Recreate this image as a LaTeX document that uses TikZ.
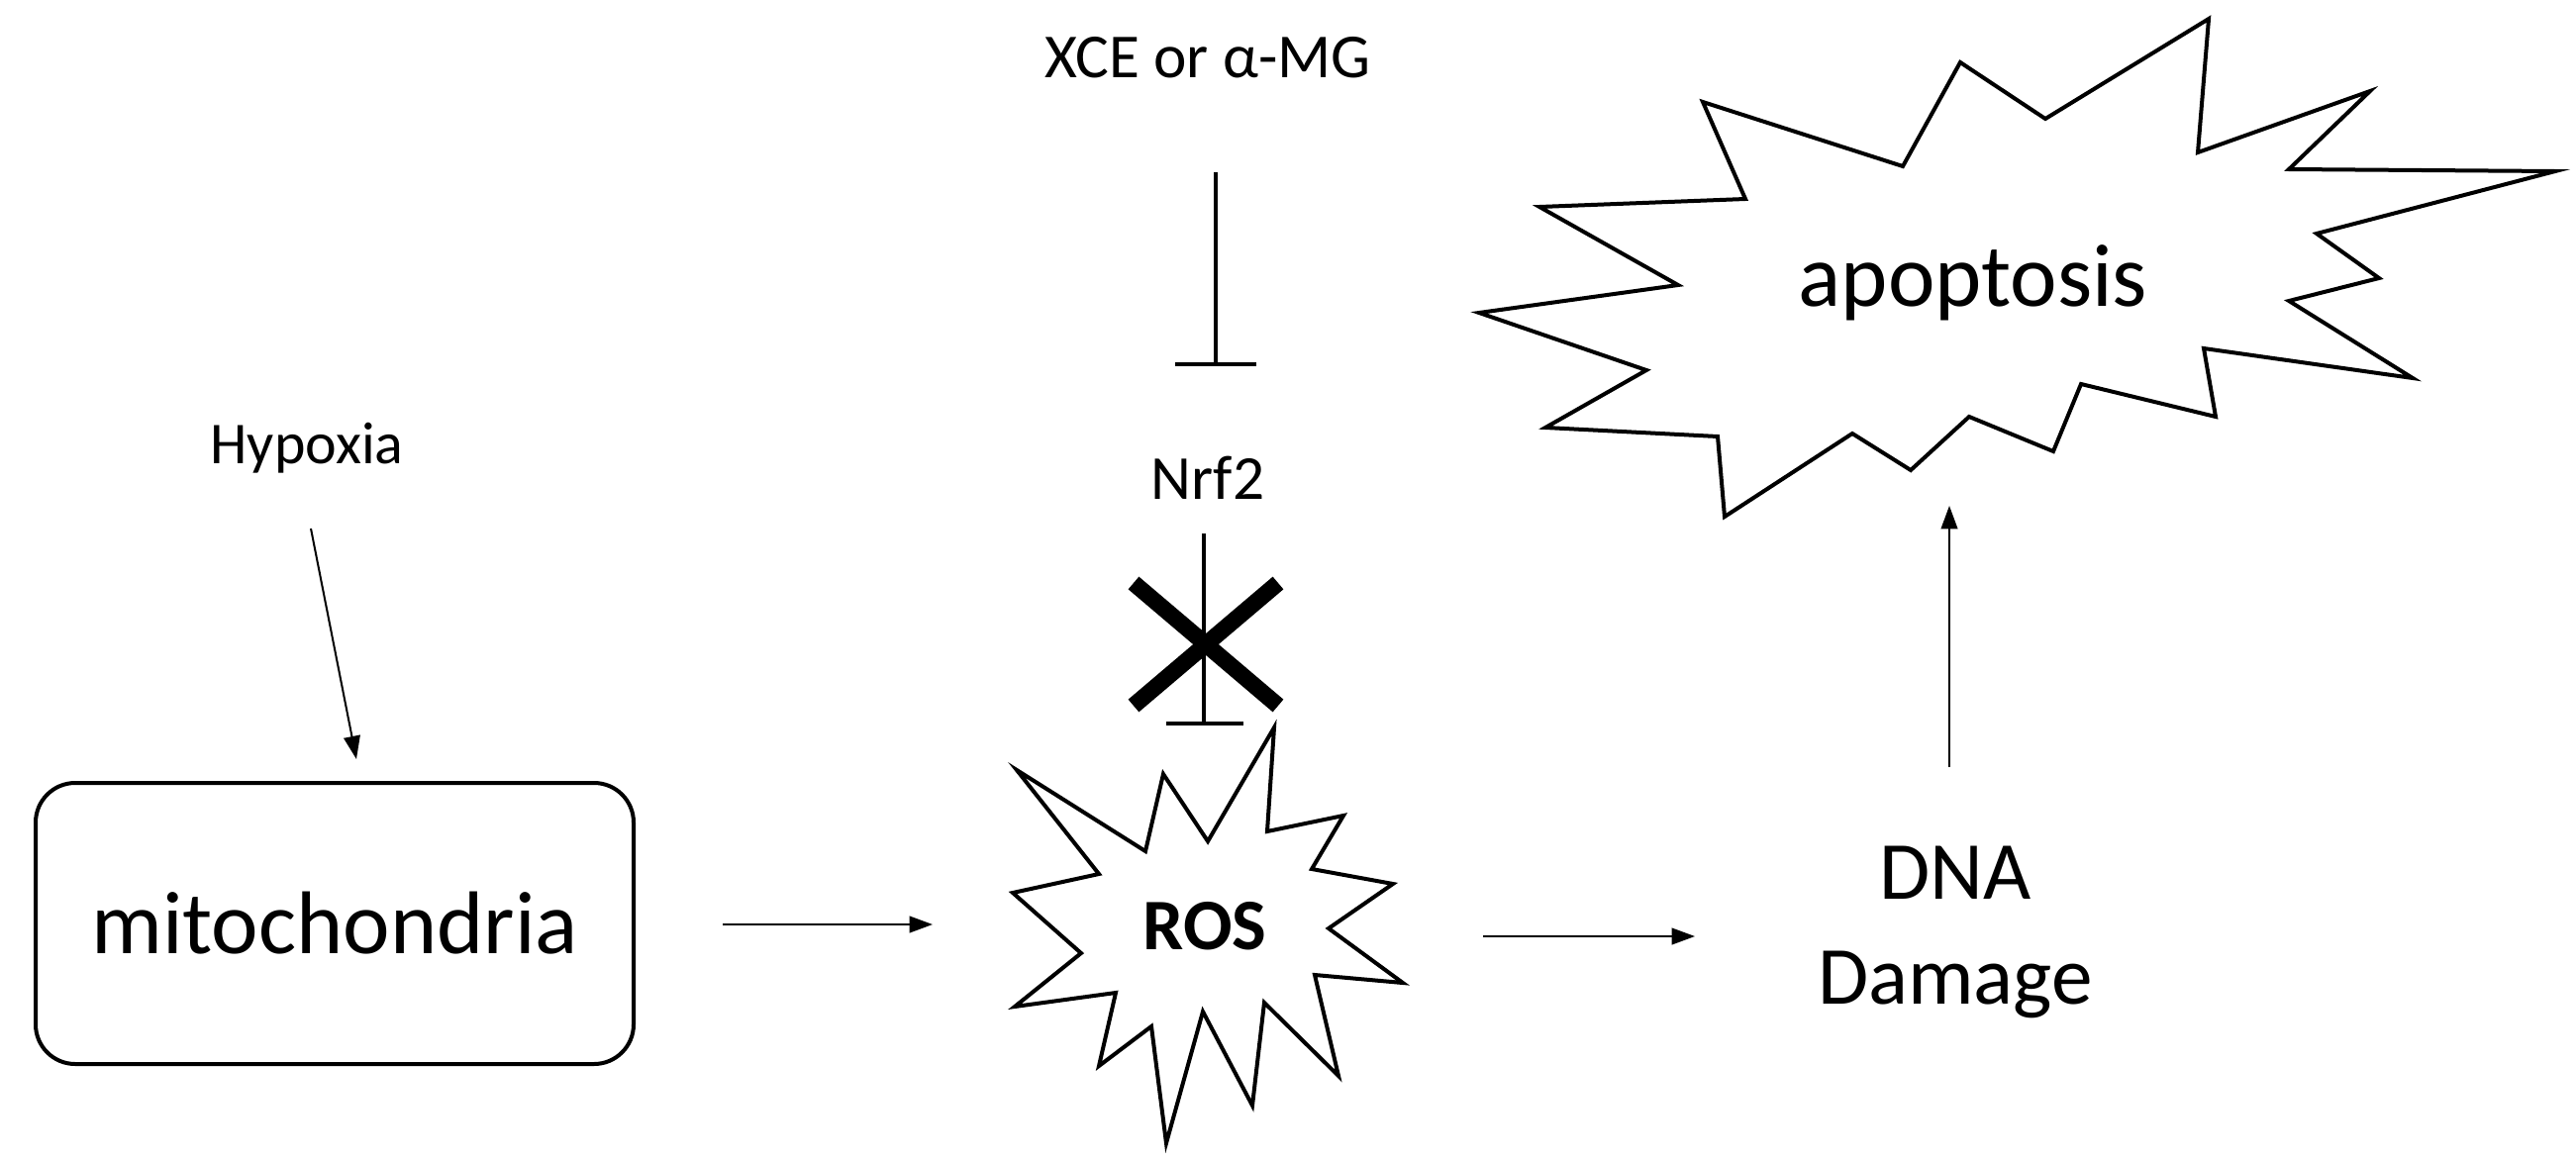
\documentclass[tikz,border=0pt]{standalone}
\usepackage{fontspec}
\setmainfont{Carlito}
\usetikzlibrary{arrows.meta}
\begin{document}
\begin{tikzpicture}[x=0.3pt,y=-0.3pt,
  arr/.style={line width=0.6pt,-{Triangle[length=7pt,width=5pt]}},
  inh/.style={line width=1.2pt},
  burst/.style={draw,line width=1.2pt,line join=miter}]
\useasboundingbox (0,0) rectangle (2602,1172);
% apoptosis burst
\draw[burst] (1720,103)--(1922,168)--(1980,63)--(2066,120)--(2231,19)--(2220,154)--(2394,92)--(2312,171)--(2581,173)--(2340,236)--(2403,281)--(2312,304)--(2437,382)--(2226,352)--(2238,421)--(2102,388)--(2074,456)--(1989,421)--(1930,475)--(1871,438)--(1742,522)--(1735,441)--(1561,432)--(1663,374)--(1494,316)--(1695,288)--(1555,209)--(1763,201)--cycle;
\node[font=\fontsize{27}{32}\selectfont] (apo) at (1993,286) {apoptosis};
% ROS burst
\draw[burst] (1027,778)--(1157,860)--(1175,782)--(1220,850)--(1287,735)--(1280,840)--(1357,824)--(1325,878)--(1407,893)--(1342,938)--(1417,993)--(1328,985)--(1352,1087)--(1277,1013)--(1265,1117)--(1215,1022)--(1178,1155)--(1163,1037)--(1110,1077)--(1127,1003)--(1025,1017)--(1092,963)--(1023,902)--(1110,883)--cycle;
\node[font=\bfseries\fontsize{22}{26}\selectfont] (ros) at (1217,936) {ROS};
% mitochondria box
\node[draw,line width=1.2pt,rounded corners=12pt,minimum width=604*0.3pt,minimum height=284*0.3pt,font=\fontsize{27}{32}\selectfont] (mito) at (338,933) {mitochondria};
\node[font=\fontsize{18}{22}\selectfont] (hyp) at (310,453) {Hypoxia};
\coordinate (h1) at (314,534); \coordinate (h2) at (360,767);
\draw[arr] (h1)--(h2);
\coordinate (m1) at (730,934); \coordinate (m2) at (942,934);
\draw[arr] (m1)--(m2);
\coordinate (r1) at (1498,946); \coordinate (r2) at (1712,946);
\draw[arr] (r1)--(r2);
\node[font=\fontsize{25}{32}\selectfont,align=center] (dna) at (1975,942) {DNA\\Damage};
\coordinate (d1) at (1969,775); \coordinate (d2) at (1969,511);
\draw[arr] (d1)--(d2);
\node[font=\fontsize{19}{23}\selectfont] (xce) at (1220,58) {XCE or α-MG};
\coordinate (x1) at (1228,174); \coordinate (x2) at (1228,368);
\draw[inh] (x1)--(x2) (1187,368)--(1269,368);
\node[font=\fontsize{19}{23}\selectfont] (nrf) at (1220,483) {Nrf2};
\coordinate (n1) at (1216,539); \coordinate (n2) at (1216,731);
\draw[inh] (n1)--(n2) (1178,731)--(1256,731);
\draw[line width=5pt] (1145,589)--(1291,713) (1145,713)--(1291,589);
\end{tikzpicture}
\end{document}
